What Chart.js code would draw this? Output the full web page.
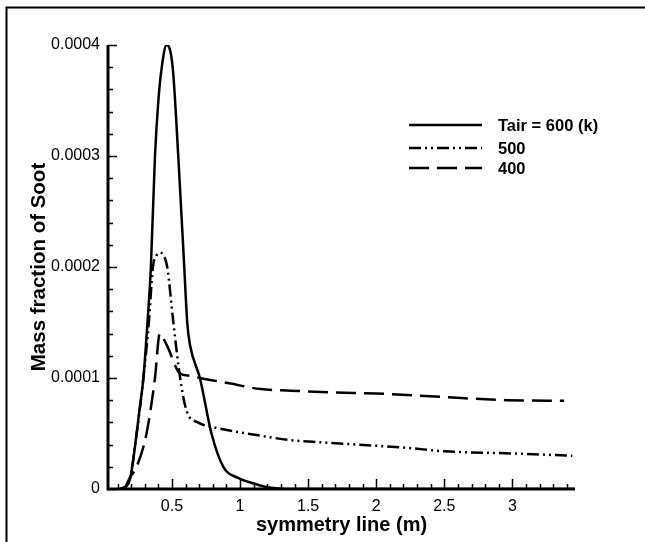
<!DOCTYPE html>
<html lang="en">
<head>
<meta charset="UTF-8">
<title>Mass fraction of Soot</title>
<script src="https://cdn.jsdelivr.net/npm/chart.js"></script>
<style>
  html, body { margin: 0; padding: 0; background: #fff; }
  canvas { display: block; }
</style>
</head>
<body>
<canvas id="sootChart" width="645" height="542"></canvas>
<script>
  // tick labels
  const xTicks = [0.5, 1, 1.5, 2, 2.5, 3];
  const xTickLabels = ['0.5', '1', '1.5', '2', '2.5', '3'];
  const yTicks = [0, 0.0001, 0.0002, 0.0003, 0.0004];
  const yTickLabels = ['0', '0.0001', '0.0002', '0.0003', '0.0004'];

  const seriesLabels = ['Tair = 600 (k)', '500', '400'];

  // Tair = 600 K (solid)
  const x600 = [0.12, 0.18, 0.2, 0.23, 0.26, 0.29, 0.32, 0.345, 0.375, 0.4, 0.425, 0.46, 0.505, 0.546, 0.59, 0.612, 0.632, 0.705, 0.79, 0.877, 0.985, 1.1, 1.2, 1.3, 1.5, 2, 2.5, 3, 3.45];
  const y600 = [0, 0.000005, 0.000014, 0.00004, 0.00007, 0.0001, 0.00015, 0.0002, 0.0003, 0.00035, 0.00038, 0.0004, 0.00038, 0.0003, 0.0002, 0.00015, 0.00013, 0.0001, 0.00005, 0.00002, 0.00001, 0.000005, 0.0000015, 0.0000003, 0, 0, 0, 0, 0];

  // 500 K (dash-dot-dot)
  const x500 = [0.12, 0.18, 0.2, 0.23, 0.29, 0.33, 0.36, 0.385, 0.41, 0.44, 0.465, 0.51, 0.56, 0.608, 0.69, 0.83, 1.0, 1.15, 1.37, 1.6, 2.0, 2.23, 2.5, 3.0, 3.44];
  const y500 = [0, 0.000005, 0.000014, 0.00004, 0.0001, 0.00015, 0.0002, 0.00021, 0.000213, 0.00021, 0.0002, 0.00015, 0.0001, 0.00007, 0.00006, 0.000055, 0.000051, 0.000048, 0.000044, 0.000042, 0.000039, 0.000037, 0.000034, 0.000032, 0.00003];

  // 400 K (dashed)
  const x400 = [0.15, 0.19, 0.24, 0.313, 0.375, 0.41, 0.46, 0.56, 0.63, 0.705, 0.93, 1.15, 1.37, 1.7, 2.0, 2.47, 2.96, 3.38];
  const y400 = [0, 0.00001, 0.00002, 0.00005, 0.0001, 0.00014, 0.00013, 0.000104, 0.000102, 0.0001, 0.000095, 0.00009, 0.0000886, 0.000087, 0.000086, 0.000083, 0.00008, 0.0000795];

  const toPoints = (xs, ys) => xs.map((x, i) => ({ x: x, y: ys[i] }));

  const FONT = '"Liberation Sans", Arial, sans-serif';

  const line = (label, xs, ys, dash) => ({
    label: label,
    data: toPoints(xs, ys),
    borderColor: '#000',
    borderWidth: 2.5,
    borderDash: dash,
    pointRadius: 0,
    fill: false,
    showLine: true,
    cubicInterpolationMode: 'monotone'
  });

  // frame, inward ticks, thick axes and the legend
  const decorations = {
    id: 'decorations',
    beforeDraw(chart) {
      const ctx = chart.ctx;
      ctx.save();
      ctx.fillStyle = '#fff';
      ctx.fillRect(0, 0, chart.width, chart.height);
      ctx.strokeStyle = '#000';
      ctx.lineWidth = 2;
      ctx.beginPath();
      ctx.moveTo(6.5, chart.height + 5);
      ctx.lineTo(6.5, 7.5);
      ctx.lineTo(chart.width + 5, 7.5);
      ctx.stroke();
      ctx.restore();
    },
    afterDatasetsDraw(chart) {
      const ctx = chart.ctx;
      const a = chart.chartArea;
      const xs = chart.scales.x, ys = chart.scales.y;
      ctx.save();
      ctx.strokeStyle = '#000';
      ctx.lineWidth = 1.5;
      ctx.beginPath();
      // x ticks, major and 0.1 minor
      for (let i = 1; i <= 34; i++) {
        const v = i / 10;
        if (v < xs.min || v > xs.max) continue;
        const px = Math.round(xs.getPixelForValue(v)) + 0.5;
        const major = i % 5 === 0;
        ctx.moveTo(px, a.bottom);
        ctx.lineTo(px, a.bottom - (major ? 10 : 5));
      }
      // y ticks, major and minor
      for (let i = 0; i <= 20; i++) {
        const v = i * 0.00002;
        const py = Math.round(ys.getPixelForValue(v)) + 0.5;
        const major = i % 5 === 0;
        ctx.moveTo(a.left, py);
        ctx.lineTo(a.left + (major ? 9 : 5), py);
      }
      ctx.stroke();
      ctx.lineWidth = 3;
      ctx.beginPath();
      ctx.moveTo(a.left, a.top);
      ctx.lineTo(a.left, a.bottom);
      ctx.lineTo(a.right, a.bottom);
      ctx.stroke();

      // legend
      ctx.font = 'bold 16.5px ' + FONT;
      ctx.fillStyle = '#000';
      ctx.textBaseline = 'middle';
      const rows = [125, 148, 168];
      chart.data.datasets.forEach((ds, i) => {
        ctx.lineWidth = 2.5;
        ctx.setLineDash(ds.borderDash || []);
        ctx.beginPath();
        ctx.moveTo(409, rows[i]);
        ctx.lineTo(482, rows[i]);
        ctx.stroke();
        ctx.setLineDash([]);
        ctx.fillText(ds.label, 498, rows[i] + 1);
      });
      ctx.restore();
    }
  };

  new Chart(document.getElementById('sootChart'), {
    type: 'scatter',
    data: {
      datasets: [
        line(seriesLabels[0], x600, y600, []),
        line(seriesLabels[1], x500, y500, [12, 4, 2, 4, 2, 4]),
        line(seriesLabels[2], x400, y400, [20, 8])
      ]
    },
    options: {
      responsive: false,
      animation: false,
      layout: { padding: { left: 0, top: 45, right: 70, bottom: 0 } },
      plugins: { legend: { display: false }, tooltip: { enabled: false } },
      scales: {
        x: {
          type: 'linear',
          min: 0.03,
          max: 3.46,
          grid: { display: false, drawTicks: false },
          border: { display: false },
          afterBuildTicks: s => { s.ticks = xTicks.map(v => ({ value: v })); },
          afterFit: s => { s.height = 53; },
          ticks: {
            padding: 8,
            color: '#000',
            font: { family: FONT, size: 16 },
            maxRotation: 0,
            autoSkip: false,
            callback: v => xTickLabels[xTicks.findIndex(t => Math.abs(t - v) < 1e-9)]
          },
          title: {
            display: true,
            text: 'symmetry line (m)',
            color: '#000',
            font: { family: FONT, size: 20, weight: 'bold' },
            padding: { top: 0, bottom: 5 }
          }
        },
        y: {
          type: 'linear',
          min: 0,
          max: 0.0004,
          grid: { display: false, drawTicks: false },
          border: { display: false },
          afterBuildTicks: s => { s.ticks = yTicks.map(v => ({ value: v })); },
          afterFit: s => { s.width = 108; },
          ticks: {
            padding: 8,
            color: '#000',
            font: { family: FONT, size: 16 },
            autoSkip: false,
            callback: v => yTickLabels[yTicks.findIndex(t => Math.abs(t - v) < 1e-12)]
          },
          title: {
            display: true,
            text: 'Mass fraction of Soot',
            color: '#000',
            font: { family: FONT, size: 20.5, weight: 'bold' },
            padding: { top: 27, bottom: 0 }
          }
        }
      }
    },
    plugins: [decorations]
  });
</script>
</body>
</html>
